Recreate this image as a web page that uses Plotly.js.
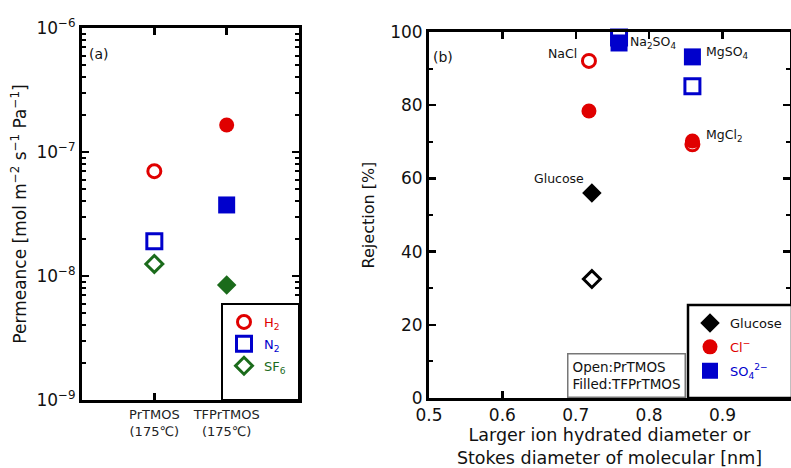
<!DOCTYPE html>
<html><head><meta charset="utf-8">
<script src="https://cdn.plot.ly/plotly-3.0.1.min.js"></script>
<style>body{margin:0;padding:0;background:#fff}#chart{width:791px;height:468px}</style>
</head><body><div id="chart"></div>
<script>
// ---- Panel (a) data ----
const categories = ['PrTMOS', 'TFPrTMOS'];
const categoryLabels = ['PrTMOS<br>(175℃)', 'TFPrTMOS<br>(175℃)'];
const h2Perm = [7.0e-8, 1.65e-7];
const n2Perm = [1.91e-8, 3.74e-8];
const sf6Perm = [1.25e-8, 8.45e-9];
const permTickVals = [1e-9, 1e-8, 1e-7, 1e-6];
const permTickText = ['10<sup>−9</sup>', '10<sup>−8</sup>', '10<sup>−7</sup>', '10<sup>−6</sup>'];

// ---- Panel (b) data ----
const glucoseX = [0.722];
const glucoseOpen = [32.5];
const glucoseFilled = [56.0];
const clX = [0.718, 0.859];
const clOpen = [92.1, 69.3];
const clFilled = [78.4, 70.2];
const so4X = [0.759, 0.859];
const so4Open = [98.5, 85.2];
const so4Filled = [97.0, 93.2];
const saltNames = ['NaCl', 'Na<sub>2</sub>SO<sub>4</sub>', 'MgSO<sub>4</sub>', 'MgCl<sub>2</sub>', 'Glucose'];

const RED = '#e00000', BLUE = '#0000cc', GREEN = '#1b6b1b', BLACK = '#000000';
const FONT = 'DejaVu Sans, sans-serif';

function openT(x, y, sym, color, name, xa, ya, leg, show, grp) {
  return {x: x, y: y, type: 'scatter', mode: 'markers', xaxis: xa, yaxis: ya, name: name,
    legend: leg, showlegend: show, cliponaxis: false, legendgroup: grp,
    marker: {symbol: sym + '-open', size: sym === 'square' ? 15 : 13, color: color, line: {width: 3, color: color}}};
}
function fillT(x, y, sym, color, name, xa, ya, leg, show, grp) {
  return {x: x, y: y, type: 'scatter', mode: 'markers', xaxis: xa, yaxis: ya, name: name,
    legend: leg, showlegend: show, cliponaxis: false, legendgroup: grp,
    marker: {symbol: sym, size: sym === 'square' ? 17 : 15, color: color, line: {width: 0}}};
}

const traces = [
  openT([categories[0]], [h2Perm[0]], 'circle', RED, '<span style="color:' + RED + '">H<sub>2</sub></span>', 'x', 'y', 'legend', true, 'a1'),
  openT([categories[0]], [n2Perm[0]], 'square', BLUE, '<span style="color:' + BLUE + '">N<sub>2</sub></span>', 'x', 'y', 'legend', true, 'a2'),
  openT([categories[0]], [sf6Perm[0]], 'diamond', GREEN, '<span style="color:' + GREEN + '">SF<sub>6</sub></span>', 'x', 'y', 'legend', true, 'a3'),
  fillT([categories[1]], [h2Perm[1]], 'circle', RED, 'H2 f', 'x', 'y', 'legend', false, 'a1'),
  fillT([categories[1]], [n2Perm[1]], 'square', BLUE, 'N2 f', 'x', 'y', 'legend', false, 'a2'),
  fillT([categories[1]], [sf6Perm[1]], 'diamond', GREEN, 'SF6 f', 'x', 'y', 'legend', false, 'a3'),

  openT(glucoseX, glucoseOpen, 'diamond', BLACK, 'g open', 'x2', 'y2', 'legend2', false, 'b1'),
  openT(clX, clOpen, 'circle', RED, 'cl open', 'x2', 'y2', 'legend2', false, 'b2'),
  openT(so4X, so4Open, 'square', BLUE, 'so4 open', 'x2', 'y2', 'legend2', false, 'b3'),
  fillT(glucoseX, glucoseFilled, 'diamond', BLACK, '<span style="color:#111">Glucose</span>', 'x2', 'y2', 'legend2', true, 'b1'),
  fillT(clX, clFilled, 'circle', RED, '<span style="color:' + RED + '">Cl<sup>−</sup></span>', 'x2', 'y2', 'legend2', true, 'b2'),
  fillT(so4X, so4Filled, 'square', BLUE, '<span style="color:' + BLUE + '">SO<sub>4</sub><sup>2−</sup></span>', 'x2', 'y2', 'legend2', true, 'b3')
];

const W = 791, H = 468;
const axBase = {showline: true, linewidth: 3, linecolor: '#000', mirror: 'allticks', ticks: 'inside',
  tickwidth: 2.5, ticklen: 7, tickcolor: '#000', showgrid: false, zeroline: false,
  tickfont: {family: FONT, size: 17, color: '#111'}};

const layout = {
  width: W, height: H, margin: {l: 0, r: 0, t: 0, b: 0},
  paper_bgcolor: '#fff', plot_bgcolor: '#fff', font: {family: FONT, color: '#111'},
  xaxis: Object.assign({}, axBase, {domain: [82 / W, 299 / W], type: 'category', range: [-1, 2],
    tickvals: categories, ticktext: categoryLabels, tickfont: {family: FONT, size: 13, color: '#222'},
    anchor: 'y'}),
  yaxis: Object.assign({}, axBase, {domain: [1 - 400 / H, 1 - 28 / H], type: 'log', range: [-9, -6],
    tickvals: permTickVals, ticktext: permTickText, anchor: 'x',
    minor: {ticks: 'inside', ticklen: 4, tickwidth: 2, tickcolor: '#000', dtick: 'D1'},
    title: {text: 'Permeance [mol m<sup>−2</sup> s<sup>−1</sup> Pa<sup>−1</sup>]', font: {family: FONT, size: 17, color: '#111'}, standoff: 6}}),
  xaxis2: Object.assign({}, axBase, {domain: [429 / W, 790 / W], range: [0.5, 0.992], dtick: 0.1, tick0: 0.5,
    tickformat: '.1f', anchor: 'y2',
    title: {text: 'Larger ion hydrated diameter or<br>Stokes diameter of molecular [nm]', font: {family: FONT, size: 17.5, color: '#111'}, standoff: 8}}),
  yaxis2: Object.assign({}, axBase, {domain: [1 - 398 / H, 1 - 32 / H], range: [0, 100], dtick: 20, anchor: 'x2',
    minor: {ticks: 'inside', ticklen: 4, tickwidth: 2, tickcolor: '#000', dtick: 10},
    title: {text: 'Rejection [%]', font: {family: FONT, size: 16, color: '#111'}, standoff: 12}}),
  legend: {x: 224 / W, y: 1 - 307 / H, xanchor: 'left', yanchor: 'top', bgcolor: 'rgba(0,0,0,0)', borderwidth: 0,
    font: {family: FONT, size: 13}, traceorder: 'grouped', tracegroupgap: 2, itemwidth: 30},
  legend2: {x: 690 / W, y: 1 - 308 / H, xanchor: 'left', yanchor: 'top', bgcolor: 'rgba(0,0,0,0)', borderwidth: 0,
    font: {family: FONT, size: 13}, traceorder: 'grouped', tracegroupgap: 4, itemwidth: 30},
  shapes: [
    {type: 'rect', xref: 'paper', yref: 'paper', x0: 222 / W, x1: 299 / W, y0: 1 - 400 / H, y1: 1 - 304 / H,
      line: {color: '#000', width: 2}, fillcolor: '#fff', layer: 'above'},
    {type: 'rect', xref: 'paper', yref: 'paper', x0: 688 / W, x1: 792 / W, y0: 1 - 398 / H, y1: 1 - 305 / H,
      line: {color: '#000', width: 2.5}, fillcolor: '#fff', layer: 'above'}
  ],
  annotations: [
    {xref: 'paper', yref: 'paper', x: 87 / W, y: 1 - 44 / H, text: '(a)', showarrow: false, xanchor: 'left', font: {family: FONT, size: 14, color: '#111'}},
    {xref: 'paper', yref: 'paper', x: 431 / W, y: 1 - 47 / H, text: '(b)', showarrow: false, xanchor: 'left', font: {family: FONT, size: 14, color: '#111'}},
    {xref: 'x2', yref: 'y2', x: clX[0], y: clOpen[0], text: saltNames[0], showarrow: false, xanchor: 'right', yanchor: 'bottom', xshift: -10, yshift: -2, font: {family: FONT, size: 12.5, color: '#111'}},
    {xref: 'x2', yref: 'y2', x: so4X[0], y: so4Filled[0], text: saltNames[1], showarrow: false, xanchor: 'left', xshift: 9, yshift: 0, font: {family: FONT, size: 12.5, color: '#111'}},
    {xref: 'x2', yref: 'y2', x: so4X[1], y: so4Filled[1], text: saltNames[2], showarrow: false, xanchor: 'left', xshift: 12, yshift: 4, font: {family: FONT, size: 12.5, color: '#111'}},
    {xref: 'x2', yref: 'y2', x: clX[1], y: clFilled[1], text: saltNames[3], showarrow: false, xanchor: 'left', xshift: 12, yshift: 6, font: {family: FONT, size: 12.5, color: '#111'}},
    {xref: 'x2', yref: 'y2', x: glucoseX[0], y: glucoseFilled[0], text: saltNames[4], showarrow: false, xanchor: 'right', yanchor: 'bottom', xshift: -6, yshift: 5, font: {family: FONT, size: 12.5, color: '#111'}},
    {xref: 'paper', yref: 'paper', x: 567 / W, y: 1 - 398 / H, xanchor: 'left', yanchor: 'bottom',
      text: 'Open:PrTMOS<br>Filled:TFPrTMOS', align: 'left', showarrow: false, bgcolor: '#fff',
      bordercolor: '#777', borderwidth: 1.5, borderpad: 4, font: {family: FONT, size: 13.5, color: '#111'}}
  ]
};

Plotly.newPlot('chart', traces, layout, {displayModeBar: false, staticPlot: true});
</script></body></html>
